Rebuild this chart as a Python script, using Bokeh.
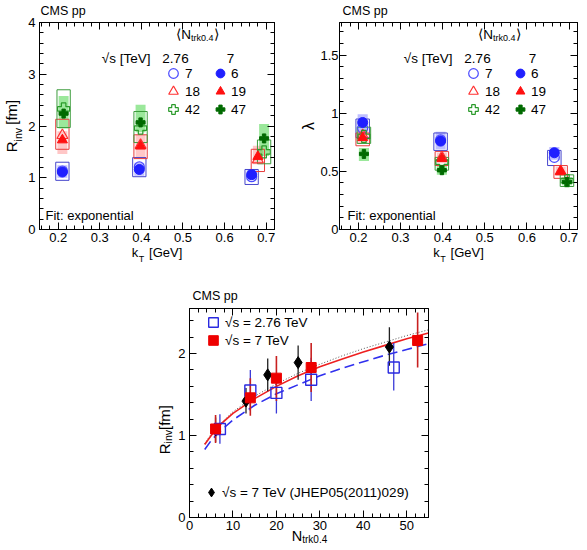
import numpy as np
from bokeh.plotting import figure
from bokeh.models import (Label, Legend, LegendItem, FixedTicker, LinearAxis,
                          Range1d, CustomJSTickFormatter, CustomLabelingPolicy)
from bokeh.layouts import column, row
from bokeh.embed import file_html
from bokeh.resources import INLINE

FONT = "Liberation Sans"
NB = "\u00a0"

# ---------------- Top panels: data vs kT ----------------
# sqrt(s)=2.76 TeV  (open markers, open boxes = syst.)
kt_276_n7 = [0.210, 0.395, 0.665]
kt_276_n18 = [0.210, 0.398, 0.680]
kt_276_n42 = [0.213, 0.398, 0.695]
# sqrt(s)=7 TeV  (filled markers, shaded bands = syst.)
kt_7_n6 = [0.210, 0.395, 0.665]
kt_7_n19 = [0.210, 0.398, 0.680]
kt_7_n47 = [0.213, 0.398, 0.695]

rinv_276_n7 = [1.13, 1.21, 1.02]
rinv_276_n7_lo = [0.95, 1.02, 0.87]
rinv_276_n7_hi = [1.30, 1.39, 1.16]
rinv_276_n18 = [1.82, 1.63, 1.35]
rinv_276_n18_lo = [1.55, 1.37, 1.12]
rinv_276_n18_hi = [2.13, 1.83, 1.55]
rinv_276_n42 = [2.33, 1.96, 1.50]
rinv_276_n42_lo = [1.97, 1.68, 1.27]
rinv_276_n42_hi = [2.70, 2.28, 1.73]
rinv_7_n6 = [1.11, 1.16, 1.06]
rinv_7_n6_lo = [1.00, 1.04, 0.95]
rinv_7_n6_hi = [1.24, 1.29, 1.17]
rinv_7_n19 = [1.73, 1.61, 1.41]
rinv_7_n19_lo = [1.46, 1.36, 1.26]
rinv_7_n19_hi = [1.90, 1.84, 1.62]
rinv_7_n47 = [2.24, 2.07, 1.76]
rinv_7_n47_lo = [1.95, 1.88, 1.42]
rinv_7_n47_hi = [2.58, 2.41, 2.04]

lam_276_n7 = [0.87, 0.77, 0.62]
lam_276_n7_lo = [0.79, 0.68, 0.55]
lam_276_n7_hi = [0.95, 0.83, 0.68]
lam_276_n18 = [0.81, 0.62, 0.50]
lam_276_n18_lo = [0.72, 0.55, 0.44]
lam_276_n18_hi = [0.83, 0.67, 0.55]
lam_276_n42 = [0.80, 0.58, 0.42]
lam_276_n42_lo = [0.74, 0.51, 0.37]
lam_276_n42_hi = [0.88, 0.62, 0.47]
lam_7_n6 = [0.92, 0.76, 0.66]
lam_7_n6_lo = [0.84, 0.69, 0.60]
lam_7_n6_hi = [0.99, 0.84, 0.71]
lam_7_n19 = [0.79, 0.61, 0.50]
lam_7_n19_lo = [0.74, 0.57, 0.46]
lam_7_n19_hi = [0.85, 0.66, 0.54]
lam_7_n47 = [0.65, 0.51, 0.41]
lam_7_n47_lo = [0.59, 0.47, 0.38]
lam_7_n47_hi = [0.70, 0.56, 0.45]

mult_labels_276 = ["7", "18", "42"]
mult_labels_7 = ["6", "19", "47"]

# ---------------- Bottom panel: R_inv vs N_trk0.4 ----------------
n_276 = [7, 14, 20, 28, 47]
r_276 = [1.08, 1.55, 1.52, 1.68, 1.83]
r_276_lo = [0.90, 1.30, 1.27, 1.42, 1.55]
r_276_hi = [1.26, 1.80, 1.76, 1.95, 2.13]
n_7 = [6, 14, 20, 28, 52.5]
r_7 = [1.08, 1.46, 1.70, 1.83, 2.16]
r_7_lo = [0.91, 1.24, 1.42, 1.53, 1.83]
r_7_hi = [1.25, 1.70, 1.97, 2.13, 2.50]
n_jhep = [6, 13, 18, 25, 46]
r_jhep = [1.07, 1.42, 1.74, 1.89, 2.08]
r_jhep_lo = [0.92, 1.27, 1.54, 1.68, 1.85]
r_jhep_hi = [1.22, 1.58, 1.94, 2.10, 2.32]
fit_n = [3.5, 5, 7, 10, 15, 20, 25, 30, 35, 40, 45, 50, 55]
fit_7 = [0.89, 1.00, 1.13, 1.27, 1.45, 1.60, 1.73, 1.84, 1.93, 2.02, 2.10, 2.18, 2.25]
fit_276 = [0.83, 0.94, 1.05, 1.19, 1.37, 1.51, 1.62, 1.73, 1.82, 1.90, 1.98, 2.05, 2.12]
fit_jhep = [0.90, 1.02, 1.14, 1.29, 1.48, 1.63, 1.76, 1.87, 1.97, 2.06, 2.14, 2.22, 2.29]

# ---------------- helpers ----------------
W = {' ': 278, NB: 278, '(': 333, ')': 333, '[': 278, ']': 278, '.': 278, '=': 584,
     ':': 278, 'C': 722, 'E': 667, 'F': 611, 'G': 778, 'H': 722, 'J': 500, 'M': 833,
     'N': 722, 'P': 667, 'R': 722, 'S': 667, 'T': 611, 'V': 667, 'a': 556, 'e': 556,
     'f': 278, 'i': 222, 'k': 500, 'l': 222, 'm': 833, 'n': 556, 'o': 556, 'p': 556,
     'r': 333, 's': 500, 't': 278, 'v': 500, 'x': 500, '√': 549, 'λ': 556, '⟨': 390,
     '⟩': 390}
SHIFT = 4  # rendered alphabetic baseline sits lower than requested


def tw(s, size):
    return sum(W.get(c, 556) for c in s) * size / 1000.0


def label(p, x, y, text, size=13, align="left", angle=0.0, panel="center"):
    if angle:
        x = x - SHIFT
    else:
        y = y - SHIFT
    p.add_layout(Label(x=x, y=y, x_units="canvas", y_units="canvas", text=text,
                       text_font=FONT, text_font_size=f"{size}px", text_align=align,
                       text_baseline="alphabetic", angle=angle, text_color="black"),
                 panel)


def rich(p, cx, cy, parts, vertical=False, panels=None):
    total = sum(tw(t, s) for t, s, d in parts)
    panels = panels or ["center"] * len(parts)
    if not vertical:
        x = cx - total / 2
        for (t, s, d), pn in zip(parts, panels):
            label(p, x, cy + d, t, s, panel=pn)
            x += tw(t, s)
    else:
        y = cy + total / 2
        for (t, s, d), pn in zip(parts, panels):
            label(p, cx + d, y, t, s, angle=np.pi / 2, panel=pn)
            y -= tw(t, s)


def ax_style(ax, ticks, minor, show, standoff=4):
    ax.ticker = FixedTicker(ticks=ticks, minor_ticks=minor)
    ax.major_tick_in = 7
    ax.major_tick_out = 0
    ax.minor_tick_in = 4
    ax.minor_tick_out = 0
    ax.axis_line_color = "black"
    ax.major_tick_line_color = "black"
    ax.minor_tick_line_color = "black"
    ax.formatter = CustomJSTickFormatter(code="return String(Math.round(tick*100)/100)")
    ax.major_label_text_font = FONT
    ax.major_label_text_color = "black"
    ax.axis_label_text_font = FONT
    ax.axis_label_text_font_style = "normal"
    ax.axis_label_text_font_size = "13px"
    ax.axis_label_text_color = "black"
    if show:
        ax.major_label_text_font_size = "13px"
        ax.major_label_standoff = standoff
    else:
        ax.major_label_text_font_size = "1px"
        ax.major_label_standoff = 0
        ax.major_label_policy = CustomLabelingPolicy(
            code="for (const i of indices) indices.unset(i); return indices;")


def base_fig(width, height, bl, br, bt, bb, xr, yr, xt, xm, yt, ym, xso=3, yso=4):
    p = figure(width=width, height=height, x_range=Range1d(*xr), y_range=Range1d(*yr),
               output_backend="svg", toolbar_location=None,
               min_border_left=bl, min_border_right=br, min_border_top=bt,
               min_border_bottom=bb)
    p.xgrid.visible = False
    p.ygrid.visible = False
    p.outline_line_color = "black"
    p.outline_line_alpha = 1
    p.background_fill_color = "white"
    p.border_fill_color = "white"
    xa = p.xaxis[0]
    ya = p.yaxis[0]
    ax_style(xa, xt, xm, True, xso)
    ax_style(ya, yt, ym, True, yso)
    top = LinearAxis()
    ax_style(top, xt, xm, False)
    p.add_layout(top, "above")
    right = LinearAxis()
    ax_style(right, yt, ym, False)
    p.add_layout(right, "right")
    return p, xa, ya


def key(p, r, text, gx, gy, fl, fb, g=24, size=13.5):
    leg = Legend(items=[LegendItem(label=text, renderers=[r])],
                 location=(gx - g / 2 - fl, fb - gy - g / 2),
                 glyph_width=g, glyph_height=g, label_height=g, label_standoff=0,
                 padding=0, margin=0, spacing=0, border_line_alpha=0,
                 background_fill_alpha=0, label_text_font=FONT,
                 label_text_font_size=f"{size}px", label_text_color="black")
    p.add_layout(leg)


BLUE, RED, GREEN_O, GREEN_F = "#2020ff", "#ff1010", "#2a9a2a", "#006a00"
HW_BOX, HW_BAND = 0.016, 0.012
YT = 15      # y-title font size
YS = 10.5    # y-title subscript size


def top_panel(width, bl, br, yr, yt, ym, data, ylab, ylab_size, yls, yso):
    FL, FB = bl, 229
    xt = [0.2, 0.3, 0.4, 0.5, 0.6, 0.7]
    xm = [round(v, 3) for v in np.arange(0.16, 0.721, 0.02)]
    p, xa, ya = base_fig(width, 275, bl, br, 22, 46, (0.155, 0.72), yr, xt, xm, yt, ym,
                         xso=3, yso=yso)
    ya.axis_label = ylab
    ya.axis_label_text_font_size = f"{ylab_size}px"
    ya.axis_label_standoff = yls
    xa.axis_label = "k" + NB * 3 + "[GeV]"
    xa.axis_label_standoff = 0

    (k276, v276, lo276, hi276), (k7, v7, lo7, hi7) = data
    band_cols = ["#0000ff", "#ff0000", "#22cc22"]
    band_alpha = [0.25, 0.22, 0.45]
    box_cols = ["#4646cc", "#e83c3c", "#3c9c3c"]
    for i in range(3):
        p.quad(left=[k - HW_BAND for k in k7[i]], right=[k + HW_BAND for k in k7[i]],
               bottom=lo7[i], top=hi7[i], fill_color=band_cols[i],
               fill_alpha=band_alpha[i], line_color=None)
    for i in range(3):
        p.quad(left=[k - HW_BOX for k in k276[i]], right=[k + HW_BOX for k in k276[i]],
               bottom=lo276[i], top=hi276[i], fill_color=None, line_color=box_cols[i],
               line_width=1)
    open_r = [
        p.scatter(k276[0], v276[0], marker="circle", size=10, fill_color=None,
                  line_color="#4a4aff", line_width=1.2),
        p.scatter(k276[1], v276[1], marker="triangle", size=11, fill_color=None,
                  line_color="#ff3030", line_width=1.2),
        p.scatter(k276[2], v276[2], marker="plus", size=12, fill_color=None,
                  line_color=GREEN_O, line_width=1.2),
    ]
    fill_r = [
        p.scatter(k7[0], v7[0], marker="circle", size=10, fill_color=BLUE, line_color=BLUE),
        p.scatter(k7[1], v7[1], marker="triangle", size=10, fill_color=RED, line_color=RED),
        p.scatter(k7[2], v7[2], marker="plus", size=9, fill_color=GREEN_F,
                  line_color=GREEN_F),
    ]
    # legend block
    rich(p, FL + 160, 38, [("⟨", 13.5, 0), ("N", 13.5, 0), ("trk0.4", 9, 3.5), ("⟩", 13.5, 0)])
    label(p, FL + 113, 62, "√s [TeV]", 13.5, align="right")
    label(p, FL + 138, 62, "2.76", 13.5, align="center")
    label(p, FL + 193, 62, "7", 13.5, align="center")
    rows = [73, 91, 109]
    for i in range(3):
        key(p, open_r[i], mult_labels_276[i], FL + 134, rows[i], FL, FB, g=24)
        key(p, fill_r[i], mult_labels_7[i], FL + 181, rows[i], FL, FB, g=22)
    label(p, FL + 3, 14.5, "CMS pp", 12.5, panel="above")
    label(p, FL + 8, 219, "Fit: exponential", 13)
    # subscript T of k_T (x-axis title is centred on the frame)
    xc = FL + (width - bl - br) / 2
    total = tw("k" + NB * 3 + "[GeV]", 13)
    label(p, xc - total / 2 + tw("k", 13) + 0.5, 262.5, "T", 9, panel="below")
    return p


p1 = top_panel(290, 37, 14, (0, 4), [0, 1, 2, 3, 4],
               [round(v, 2) for v in np.arange(0.2, 4.0, 0.2)],
               (((kt_276_n7, kt_276_n18, kt_276_n42),
                 (rinv_276_n7, rinv_276_n18, rinv_276_n42),
                 (rinv_276_n7_lo, rinv_276_n18_lo, rinv_276_n42_lo),
                 (rinv_276_n7_hi, rinv_276_n18_hi, rinv_276_n42_hi)),
                ((kt_7_n6, kt_7_n19, kt_7_n47),
                 (rinv_7_n6, rinv_7_n19, rinv_7_n47),
                 (rinv_7_n6_lo, rinv_7_n19_lo, rinv_7_n47_lo),
                 (rinv_7_n6_hi, rinv_7_n19_hi, rinv_7_n47_hi))),
               "R" + NB * 4 + "[fm]", YT, 5, 4)
# subscript "inv" of R_inv (y-axis title centred on frame height)
_ylab_len = tw("R" + NB * 4 + "[fm]", YT)
label(p1, 21.5, 22 + 207 / 2 + _ylab_len / 2 - tw("R", YT), "inv", YS,
      angle=np.pi / 2, panel="right")

p2 = top_panel(297, 49, 10, (0, 1.78), [0, 0.5, 1, 1.5],
               [round(v, 2) for v in np.arange(0.1, 1.75, 0.1)],
               (((kt_276_n7, kt_276_n18, kt_276_n42),
                 (lam_276_n7, lam_276_n18, lam_276_n42),
                 (lam_276_n7_lo, lam_276_n18_lo, lam_276_n42_lo),
                 (lam_276_n7_hi, lam_276_n18_hi, lam_276_n42_hi)),
                ((kt_7_n6, kt_7_n19, kt_7_n47),
                 (lam_7_n6, lam_7_n19, lam_7_n47),
                 (lam_7_n6_lo, lam_7_n19_lo, lam_7_n47_lo),
                 (lam_7_n6_hi, lam_7_n19_hi, lam_7_n47_hi))),
               "λ", 16, 0, 1)

# ---------------- bottom panel ----------------
FL3, FB3 = 189, 242
p3, _xa3, _ya3 = base_fig(587, 275, 189, 159, 33, 33, (0, 55), (0, 2.55),
                          [0, 10, 20, 30, 40, 50], [v for v in range(2, 55, 2) if v % 10],
                          [0, 1, 2], [round(v, 1) for v in np.arange(0.2, 2.55, 0.2)
                                      if abs(v - round(v)) > 0.01])

p3.line(fit_n, fit_jhep, line_color="#555555", line_width=1, line_dash="1 2")
p3.line(fit_n, fit_7, line_color="#ee2020", line_width=1.6)
p3.line(fit_n, fit_276, line_color="#3030ee", line_width=1.6, line_dash="10 5")

p3.segment(n_jhep, r_jhep_lo, n_jhep, r_jhep_hi, line_color="#222222", line_width=1.3)
p3.segment(n_276, r_276_lo, n_276, r_276_hi, line_color="#3a3ad8", line_width=1.3)
p3.segment(n_7, r_7_lo, n_7, r_7_hi, line_color="#c82020", line_width=1.6)

r_jh = p3.scatter(n_jhep, r_jhep, marker="diamond", size=12, fill_color="black",
                  line_color="black")
r_b = p3.scatter(n_276, r_276, marker="square", size=11, fill_color=None,
                 line_color="#2a2ae0", line_width=1.4)
r_r = p3.scatter(n_7, r_7, marker="square", size=10, fill_color="#ee0000",
                 line_color="#ee0000")

key(p3, r_b, "√s = 2.76 TeV", 213, 47, FL3, FB3, g=24, size=13.5)
key(p3, r_r, "√s = 7 TeV", 213, 65, FL3, FB3, g=24, size=13.5)
key(p3, r_jh, "√s = 7 TeV (JHEP05(2011)029)", 211, 217, FL3, FB3, g=22, size=13.5)

label(p3, 192, 24.5, "CMS pp", 12.5, panel="right")
rich(p3, 309, 264, [("N", 14.5, 0), ("trk0.4", 10, 3.5)], panels=["right", "right"])
rich(p3, 168, 152, [("R", YT, 0), ("inv", YS, 3.5), (" [fm]", YT, 0)], vertical=True,
     panels=["left", "left", "left"])

layout = column(row(p1, p2), p3)
open("out.html", "w").write(file_html(layout, INLINE))
